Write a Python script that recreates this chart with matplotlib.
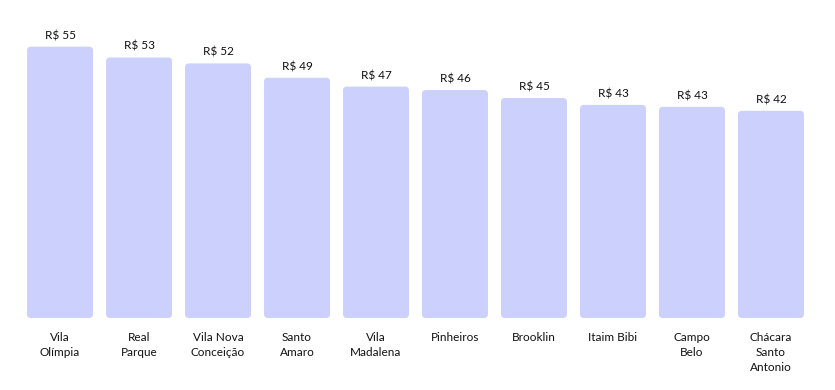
import matplotlib

matplotlib.use("Agg")
import matplotlib.pyplot as plt
from matplotlib.patches import FancyBboxPatch

bairros = [
    "Vila\nOlímpia",
    "Real\nParque",
    "Vila Nova\nConceição",
    "Santo\nAmaro",
    "Vila\nMadalena",
    "Pinheiros",
    "Brooklin",
    "Itaim Bibi",
    "Campo\nBelo",
    "Chácara\nSanto\nAntonio",
]
# price per m2 (R$); labels show rounded values
precos = [55.0, 52.8, 51.6, 48.7, 46.9, 46.2, 44.6, 43.2, 42.8, 42.0]

BAR_COLOR = "#CCD0FC"
plt.rcParams["font.family"] = ["Lato", "DejaVu Sans"]

fig = plt.figure(figsize=(8.35, 3.9), dpi=100)
ax = fig.add_axes([0.0246, 0.1846, 0.946, 0.759])

width = 0.835
ymax = 60
ax.set_xlim(-0.5, len(bairros) - 0.5)
ax.set_ylim(0, ymax)

# aspect between y data units and x data units in pixels, so corners stay round
bbox = ax.get_position()
px_x = bbox.width * fig.get_figwidth() * fig.dpi / len(bairros)
px_y = bbox.height * fig.get_figheight() * fig.dpi / ymax
aspect = px_x / px_y

for i, v in enumerate(precos):
    patch = FancyBboxPatch(
        (i - width / 2, 0), width, v,
        boxstyle="round,pad=0,rounding_size=0.05",
        mutation_aspect=aspect,
        facecolor=BAR_COLOR, edgecolor="none",
    )
    ax.add_patch(patch)
    ax.annotate(f"R$ {v:.0f}", (i, v), xytext=(0, 4), textcoords="offset points",
                ha="center", va="bottom", fontsize=8.5, color="#111111")

ax.set_xticks(range(len(bairros)))
ax.set_xticklabels(bairros, fontsize=8.5, color="#111111", linespacing=1.45, va="top")
ax.tick_params(axis="x", length=0, pad=10)
ax.set_yticks([])
for s in ax.spines.values():
    s.set_visible(False)

fig.savefig("out.png", dpi=100)
